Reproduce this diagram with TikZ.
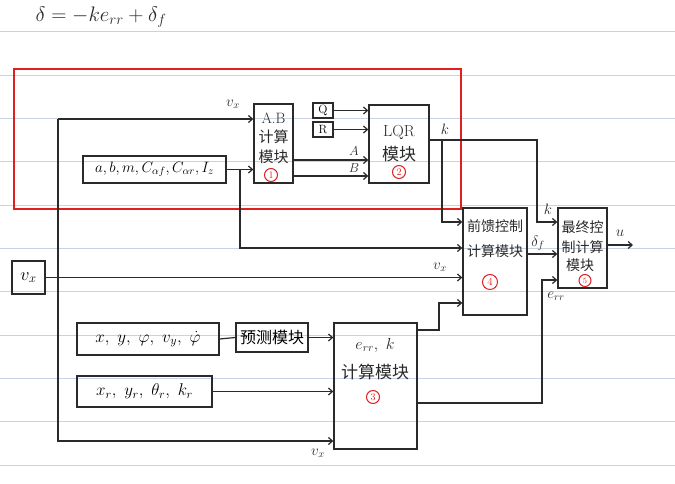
\RequirePackage{fix-cm}
\documentclass[tikz,border=0pt]{standalone}
\usepackage{fontspec}
\newfontfamily\cjk{Noto Sans CJK SC}
\usetikzlibrary{arrows.meta}
\definecolor{ink}{HTML}{2A2A2A}
\definecolor{rulec}{HTML}{C9D1E6}
\definecolor{markc}{HTML}{E02020}
\begin{document}
\begin{tikzpicture}[x=1pt,y=-1pt,
  box/.style={draw=ink, line width=1.3pt, inner sep=0pt},
  arr/.style={draw=ink, line width=1.2pt, -{Straight Barb[length=4pt,width=7pt]}},
  wire/.style={draw=ink, line width=1.2pt},
  cjkt/.style={font=\cjk\fontsize{15}{16}\selectfont, text=ink, inner sep=0pt},
  lab/.style={font=\fontsize{15}{16}\selectfont, text=ink, inner sep=0pt},
  cnum/.style={circle, draw=markc, text=markc, line width=1pt, inner sep=0pt, minimum size=13pt, font=\fontsize{10}{10}\selectfont}]
\useasboundingbox (0,0) rectangle (675,484);
\fill[white] (0,0) rectangle (675,484);
\foreach \k in {0,...,10} \draw[rulec, line width=1pt] (0,{32+43.3*\k}) -- (675,{32+43.3*\k});

% title
\node[font=\fontsize{21}{24}\selectfont, text=ink] (title) at (101,17) {$\delta = -k e_{rr} + \delta_f$};

% red frame
\draw[markc, line width=1.6pt] (14,69) rectangle (461,209);

% boxes
\node[box, minimum width=39pt, minimum height=79pt] (ab) at (273.5,143.5) {};
\node[box, minimum width=60pt, minimum height=78pt] (lqr) at (399,144) {};
\node[box, minimum width=20pt, minimum height=15pt, font=\fontsize{12}{12}\selectfont] (q) at (323,110.5) {Q};
\node[box, minimum width=20pt, minimum height=15pt, font=\fontsize{12}{12}\selectfont] (r) at (323,129.5) {R};
\node[box, minimum width=143pt, minimum height=27pt, font=\fontsize{15}{16}\selectfont] (par) at (154.5,169.5) {$a, b, m, C_{\alpha f}, C_{\alpha r}, I_z$};
\node[box, minimum width=64pt, minimum height=107pt] (b4) at (495,261.5) {};
\node[box, minimum width=49pt, minimum height=80pt] (b5) at (582.5,248) {};
\node[box, minimum width=33pt, minimum height=33pt, font=\fontsize{18}{18}\selectfont] (vxb) at (28.5,277.5) {$v_x$};
\node[box, minimum width=142pt, minimum height=32pt, font=\fontsize{17}{18}\selectfont] (xy) at (148,339) {$x,\ y,\ \varphi,\ v_y,\ \dot{\varphi}$};
\node[box, minimum width=72pt, minimum height=29pt, font=\cjk\fontsize{16}{17}\selectfont] (pred) at (272,337.5) {预测模块};
\node[box, minimum width=135pt, minimum height=31pt, font=\fontsize{17}{18}\selectfont] (xr) at (144.5,391.5) {$x_r,\ y_r,\ \theta_r,\ k_r$};
\node[box, minimum width=83pt, minimum height=126pt] (b3) at (375.5,386) {};

% box texts
\node[lab] (abt1) at (273.5,118) {A.B};
\node[cjkt] (abt2) at (273.5,137) {计算};
\node[cjkt] (abt3) at (273.5,157) {模块};
\node[cnum] (n1) at (271,175) {1};
\node[lab, font=\fontsize{16}{17}\selectfont] (lqt1) at (399,132) {LQR};
\node[cjkt, font=\cjk\fontsize{17}{18}\selectfont] (lqt2) at (399,154) {模块};
\node[cnum] (n2) at (399,172) {2};
\node[cjkt, font=\cjk\fontsize{14}{15}\selectfont] (b4t1) at (495,226) {前馈控制};
\node[cjkt, font=\cjk\fontsize{14}{15}\selectfont] (b4t2) at (495,251) {计算模块};
\node[cnum, minimum size=15pt, font=\fontsize{11}{11}\selectfont] (n4) at (490,282) {4};
\node[cjkt, font=\cjk\fontsize{14}{15}\selectfont] (b5t1) at (582.5,227) {最终控};
\node[cjkt, font=\cjk\fontsize{14}{15}\selectfont] (b5t2) at (582.5,247) {制计算};
\node[cjkt, font=\cjk\fontsize{14}{15}\selectfont] (b5t3) at (580,265) {模块};
\node[cnum, minimum size=12pt, font=\fontsize{8}{8}\selectfont] (n5) at (585,280.5) {5};
\node[lab, font=\fontsize{16}{17}\selectfont] (b3t1) at (375,345) {$e_{rr},\ k$};
\node[cjkt, font=\cjk\fontsize{17}{18}\selectfont] (b3t2) at (375,372) {计算模块};
\node[cnum] (n3) at (373,397) {3};

% coordinates
\coordinate (c1) at (58,119);
\coordinate (c2) at (58,441);
\coordinate (br) at (240,248);
\coordinate (ca) at (330,160);
\coordinate (cb) at (330,176);
\coordinate (ka) at (442,140);
\coordinate (kc) at (442,222);
\coordinate (kb) at (537,140);
\coordinate (kd) at (537,222);
\coordinate (df) at (540,254);
\coordinate (uo) at (633,245);
\coordinate (e1) at (439,330);
\coordinate (e2) at (439,303);
\coordinate (f1) at (542,403);
\coordinate (f2) at (542,280);

% connectors
\draw[arr] (c1) -- (c1 -| ab.west);
\draw[arr] (c1) -- (c2) -- (c2 -| b3.west);
\draw[arr] (vxb.east) -- (vxb.east -| b4.west);
\draw[arr] (par.east) -- (par.east -| ab.west);
\draw[arr] (br |- par.east) -- (br) -- (br -| b4.west);
\draw[arr] (q.east) -- (q.east -| lqr.west);
\draw[arr] (r.east) -- (r.east -| lqr.west);
\draw[arr] (ca -| ab.east) -- (ca -| lqr.west);
\draw[arr] (cb -| ab.east) -- (cb -| lqr.west);
\draw[arr] (ka -| lqr.east) -- (kb) -- (kd) -- (kd -| b5.west);
\draw[arr] (ka) -- (kc) -- (kc -| b4.west);
\draw[arr] (df -| b4.east) -- (df -| b5.west);
\draw[arr] (uo -| b5.east) -- (uo);
\draw[wire] (xy.east) -- (pred.west);
\draw[arr] (pred.east) -- (pred.east -| b3.west);
\draw[arr] (xr.east) -- (xr.east -| b3.west);
\draw[arr] (e1 -| b3.east) -- (e1) -- (e2) -- (e2 -| b4.west);
\draw[arr] (f1 -| b3.east) -- (f1) -- (f2) -- (f2 -| b5.west);

% labels
\node[lab] (l1) at (233,104) {$v_x$};
\node[lab, font=\fontsize{13}{14}\selectfont] (l2) at (354,151) {$A$};
\node[lab, font=\fontsize{13}{14}\selectfont] (l3) at (354,168) {$B$};
\node[lab] (l4) at (445,129) {$k$};
\node[lab] (l5) at (548,209) {$k$};
\node[lab] (l6) at (538,243) {$\delta_f$};
\node[lab] (l7) at (620,233) {$u$};
\node[lab] (l8) at (440,267) {$v_x$};
\node[lab] (l9) at (556,296) {$e_{rr}$};
\node[lab] (l10) at (318,453) {$v_x$};
\end{tikzpicture}
\end{document}
